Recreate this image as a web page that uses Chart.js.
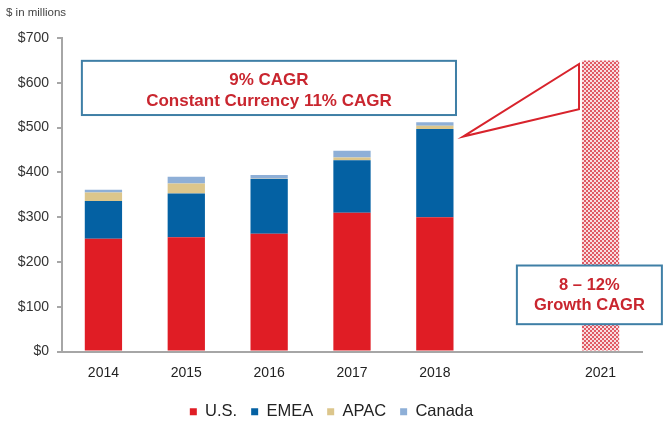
<!DOCTYPE html>
<html>
<head>
<meta charset="utf-8">
<script src="https://cdn.jsdelivr.net/npm/chart.js@4.4.1/dist/chart.umd.min.js"></script>
<style>
  html, body { margin: 0; padding: 0; background: #fff; }
  #wrap { width: 663px; height: 424px; }
</style>
</head>
<body>
<div id="wrap"><canvas id="bar-chart"></canvas></div>
<script>
// datos de ingresos por region ($ en millones)
var anios = ['2014', '2015', '2016', '2017', '2018', '', '2021'];
var ventasUS = [252, 255, 263, 310, 300, null, null];
var ventasEMEA = [84, 98, 122, 117, 197, null, null];
var ventasAPAC = [19, 22, 1, 6, 7, null, null];
var ventasCanada = [6, 15, 8, 15, 8, null, null];
var meta2021 = [null, null, null, null, null, null, 650];
var ticksY = [0, 100, 200, 300, 400, 500, 600, 700];

var textoCaja1 = ['9% CAGR', 'Constant Currency 11% CAGR'];
var textoCaja2 = ['8 \u2013 12%', 'Growth CAGR'];

var FUENTE = "Arial, 'Liberation Sans', sans-serif";
var ROJO_TEXTO = '#c9262f';
var AZUL_CAJA = '#3f7fa6';

// patron cuadriculado para la barra de 2021
function crearPatron() {
    var c = document.createElement('canvas');
    c.width = 4;
    c.height = 4;
    var g = c.getContext('2d');
    g.fillStyle = '#f8dde0';
    g.fillRect(0, 0, 4, 4);
    g.fillStyle = '#e05a64';
    g.fillRect(0, 0, 2, 2);
    g.fillRect(2, 2, 2, 2);
    return g.createPattern(c, 'repeat');
}

// pasa (indice de categoria, valor) a pixeles con las escalas
function punto(chart, i, v) {
    return {
        x: chart.scales.x.getPixelForValue(i),
        y: chart.scales.y.getPixelForValue(v)
    };
}

function dibujarCaja(ctx, chart, i0, i1, vTop, vBot, lineas, fontPx, sep, dy) {
    var a = punto(chart, i0, vTop);
    var b = punto(chart, i1, vBot);
    ctx.fillStyle = '#fff';
    ctx.fillRect(a.x, a.y, b.x - a.x, b.y - a.y);
    ctx.strokeStyle = AZUL_CAJA;
    ctx.lineWidth = 2;
    ctx.strokeRect(a.x, a.y, b.x - a.x, b.y - a.y);
    ctx.fillStyle = ROJO_TEXTO;
    ctx.font = 'bold ' + fontPx + 'px ' + FUENTE;
    ctx.textAlign = 'center';
    ctx.textBaseline = 'middle';
    var cx = (a.x + b.x) / 2;
    var cy = (a.y + b.y) / 2 + dy;
    ctx.fillText(lineas[0], cx, cy - sep / 2);
    ctx.fillText(lineas[1], cx, cy + sep / 2);
}

var anotaciones = {
    id: 'anotaciones',
    afterDraw: function (chart) {
        var ctx = chart.ctx;
        ctx.save();
        // unidad del eje
        ctx.fillStyle = '#444';
        ctx.font = '11.5px ' + FUENTE;
        ctx.textAlign = 'left';
        ctx.textBaseline = 'middle';
        ctx.fillText('$ in millions', 6, 13);

        dibujarCaja(ctx, chart, -0.26, 4.255, 649, 528, textoCaja1, 17, 21, 3);
        dibujarCaja(ctx, chart, 4.99, 6.74, 192, 61, textoCaja2, 16.5, 20, 1);

        // triangulo que une la caja con la barra de 2021
        var p1 = punto(chart, 4.34, 480);
        var p2 = punto(chart, 5.74, 642);
        var p3 = punto(chart, 5.74, 541);
        ctx.beginPath();
        ctx.moveTo(p1.x, p1.y);
        ctx.lineTo(p2.x, p2.y);
        ctx.lineTo(p3.x, p3.y);
        ctx.closePath();
        ctx.fillStyle = '#fff';
        ctx.fill();
        ctx.strokeStyle = '#d8232c';
        ctx.lineWidth = 2;
        ctx.stroke();
        ctx.restore();
    }
};

function CARGAR_GRAFICA() {
    new Chart(document.getElementById('bar-chart'), {
        type: 'bar',
        data: {
            labels: anios,
            datasets: [
                { label: 'U.S.', data: ventasUS, backgroundColor: '#e01d25' },
                { label: 'EMEA', data: ventasEMEA, backgroundColor: '#0461a3' },
                { label: 'APAC', data: ventasAPAC, backgroundColor: '#dcc68c' },
                { label: 'Canada', data: ventasCanada, backgroundColor: '#8eafd7' },
                { label: '2021', data: meta2021, backgroundColor: crearPatron() }
            ]
        },
        options: {
            responsive: true,
            maintainAspectRatio: false,
            animation: false,
            datasets: {
                bar: { barPercentage: 0.9, categoryPercentage: 0.5, stack: 'a' }
            },
            layout: { padding: { top: 38, right: 0, left: 0, bottom: -6 } },
            scales: {
                x: {
                    stacked: true,
                    grid: { display: false, drawTicks: false },
                    border: { color: '#a6a6a6', width: 2 },
                    ticks: { color: '#222', font: { family: FUENTE, size: 14 }, padding: 13, maxRotation: 0 },
                    afterFit: function (scale) { scale.height = 38; }
                },
                y: {
                    stacked: true,
                    min: 0,
                    max: 700,
                    afterBuildTicks: function (scale) {
                        scale.ticks = ticksY.map(function (v) { return { value: v }; });
                    },
                    grid: { drawOnChartArea: false, tickLength: 5, color: '#a6a6a6', lineWidth: 2 },
                    border: { color: '#a6a6a6', width: 2 },
                    ticks: {
                        color: '#333',
                        padding: 8,
                        font: { family: FUENTE, size: 14 },
                        callback: function (v) { return '$' + v; }
                    },
                    afterFit: function (scale) { scale.width = 62; }
                },
                // margen derecho vacio, asi la leyenda queda centrada en todo el ancho
                margenDer: {
                    type: 'linear',
                    position: 'right',
                    grid: { display: false },
                    border: { display: false },
                    ticks: { display: false },
                    afterFit: function (scale) { scale.width = 21; }
                }
            },
            plugins: {
                tooltip: { enabled: false },
                legend: {
                    position: 'bottom',
                    labels: {
                        boxWidth: 7,
                        boxHeight: 7,
                        padding: 14,
                        color: '#222',
                        font: { family: FUENTE, size: 16.5 },
                        filter: function (item) { return item.text !== '2021'; }
                    }
                }
            }
        },
        plugins: [anotaciones]
    });
}

CARGAR_GRAFICA();
</script>
</body>
</html>
